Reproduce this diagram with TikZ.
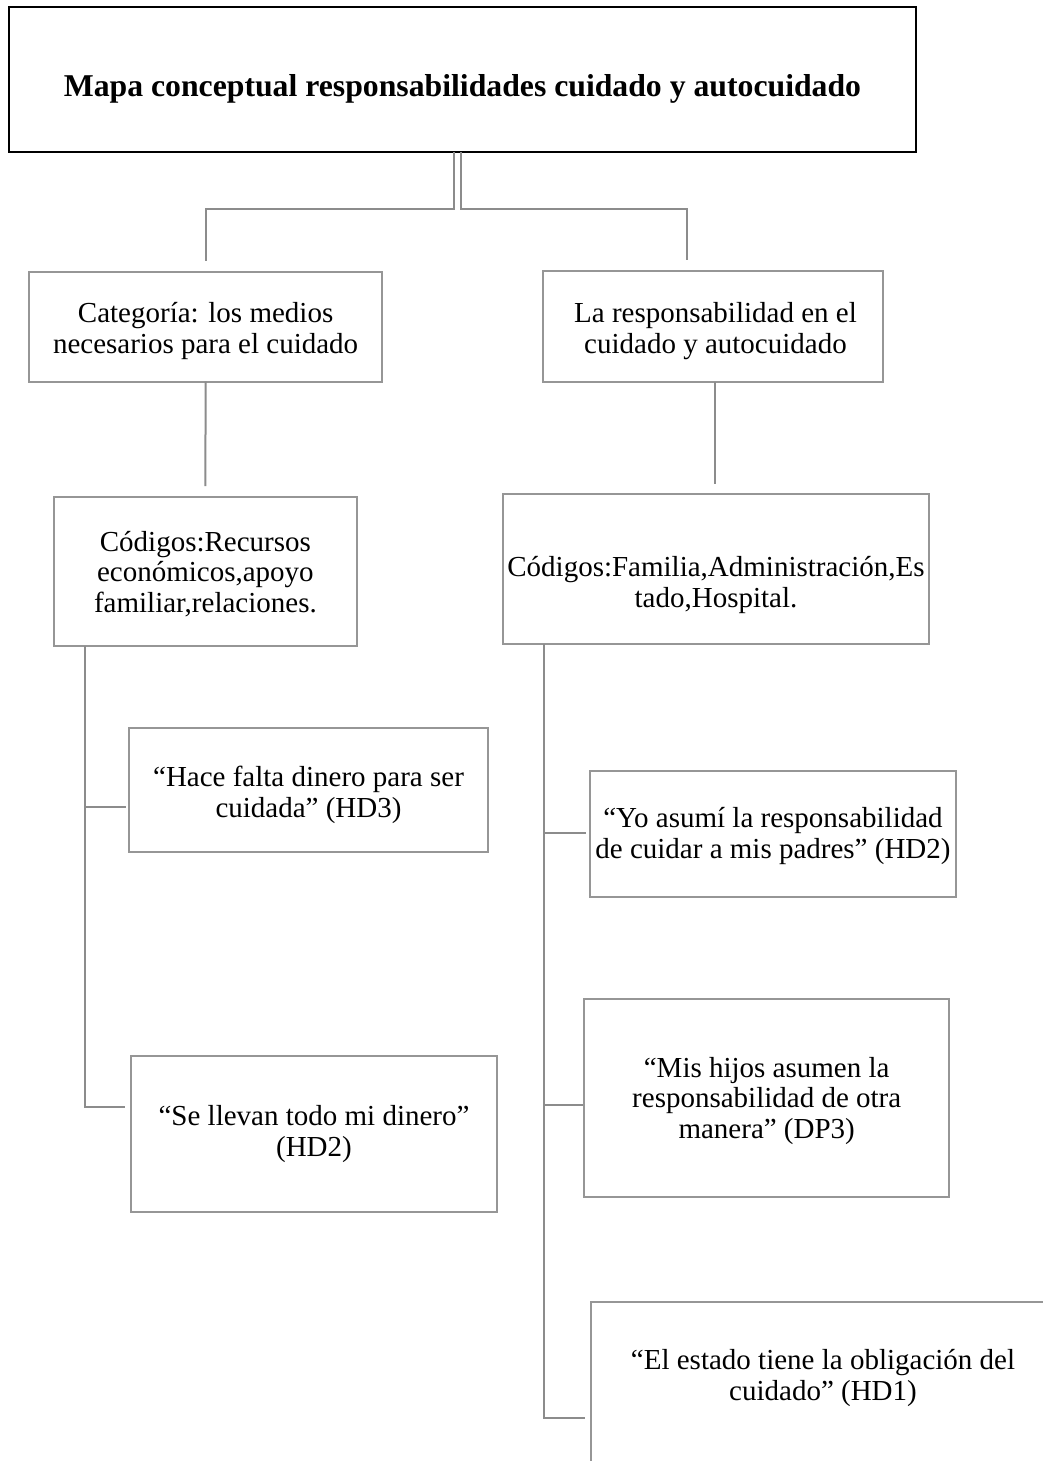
\documentclass[tikz,border=0pt]{standalone}
\usepackage{fontspec}
\setmainfont{Liberation Serif}
\usetikzlibrary{calc}
\definecolor{boxgray}{RGB}{150,150,150}
\definecolor{linegray}{RGB}{140,140,140}
\begin{document}
\begin{tikzpicture}[x=0.75pt,y=-0.75pt,
  box/.style n args={2}{draw=boxgray,line width=1.5pt,inner sep=0pt,outer sep=0pt,
    anchor=north west,minimum width=#1*0.75pt,minimum height=#2*0.75pt},
  txt/.style={align=center,inner sep=0pt,font=\fontsize{21.75pt}{22.9pt}\selectfont},
  headtxt/.style={inner sep=0pt,font=\bfseries\fontsize{23.8pt}{28pt}\selectfont},
  conn/.style={draw=linegray,line width=1.5pt}]
% page
\fill[white] (0,0) rectangle (1043,1461);
\useasboundingbox (0,0) rectangle (1043,1461);
\clip (0,0) rectangle (1043,1461);

% boxes
\node[box={907.3}{144.7},draw=black,line width=1.7pt] (title) at (8.7,7.3) {};
\node[box={352.7}{110}] (cat) at (29.3,271.7) {};
\node[box={340}{111}] (resp) at (543.3,270.7) {};
\node[box={302.7}{149.3}] (cod1) at (54,496.7) {};
\node[box={426.6}{150}] (cod2) at (502.7,494) {};
\node[box={359}{124}] (hace) at (129,727.7) {};
\node[box={366}{126}] (yo) at (590,770.7) {};
\node[box={366.6}{156}] (se) at (130.7,1055.7) {};
\node[box={365.3}{198}] (mis) at (584,999) {};
\node[box={465}{250}] (estado) at (590.7,1302) {};

% texts
\node[headtxt] (titlet) at (462.5,88.5) {Mapa conceptual responsabilidades cuidado y autocuidado};
\node[txt] (catt) at (205.6,331) {Categoría: los medios\\necesarios para el cuidado};
\node[txt] (respt) at (715.5,331) {La responsabilidad en el\\cuidado y autocuidado};
\node[txt] (cod1t) at (205.4,574) {Códigos:Recursos\\económicos,apoyo\\familiar,relaciones.};
\node[txt] (cod2t) at (716,585) {Códigos:Familia,Administración,Es\\tado,Hospital.};
\node[txt] (hacet) at (308.5,795) {“Hace falta dinero para ser\\cuidada” (HD3)};
\node[txt] (yot) at (773,836) {“Yo asumí la responsabilidad\\de cuidar a mis padres” (HD2)};
\node[txt] (set) at (314,1134) {“Se llevan todo mi dinero”\\(HD2)};
\node[txt] (mist) at (766.7,1101) {“Mis hijos asumen la\\responsabilidad de otra\\manera” (DP3)};
\node[txt] (estadot) at (823,1378) {“El estado tiene la obligación del\\cuidado” (HD1)};

% double link from the title to the two categories
\draw[conn] ($(title.south west)+(445.3,0)$) |- ($(cat.north)+(0,-62.7)$) -- ($(cat.north)+(0,-11)$);
\draw[conn] ($(title.south west)+(452,0)$) |- ($(resp.north west)+(143.7,-61.7)$) -- ($(resp.north west)+(143.7,-11)$);

% categories to codes
\draw[conn] (cat.south) -- ($(cod1.north)+(0,-10.7)$);
\coordinate (rs) at ($(resp.south west)+(171.7,0)$);
\draw[conn] (rs) -- ($(cod2.north west)+(212.3,-10)$);

% left trunk and its branches
\coordinate (lt) at ($(cod1.south west)+(31,0)$);
\coordinate (hb) at ($(hace.north west)+(-3,79)$);
\coordinate (sb) at ($(se.north west)+(-5.7,51)$);
\draw[conn] (lt) |- (sb);
\draw[conn] (lt |- hb) -- (hb);

% right trunk and its branches
\coordinate (rt) at ($(cod2.south west)+(41.3,0)$);
\coordinate (yb) at ($(yo.north west)+(-4.3,62.3)$);
\coordinate (mb) at ($(mis.north west)+(-1,106)$);
\coordinate (eb) at ($(estado.north west)+(-5.7,115.7)$);
\draw[conn] (rt) |- (eb);
\draw[conn] (rt |- yb) -- (yb);
\draw[conn] (rt |- mb) -- (mb);
\end{tikzpicture}
\end{document}
